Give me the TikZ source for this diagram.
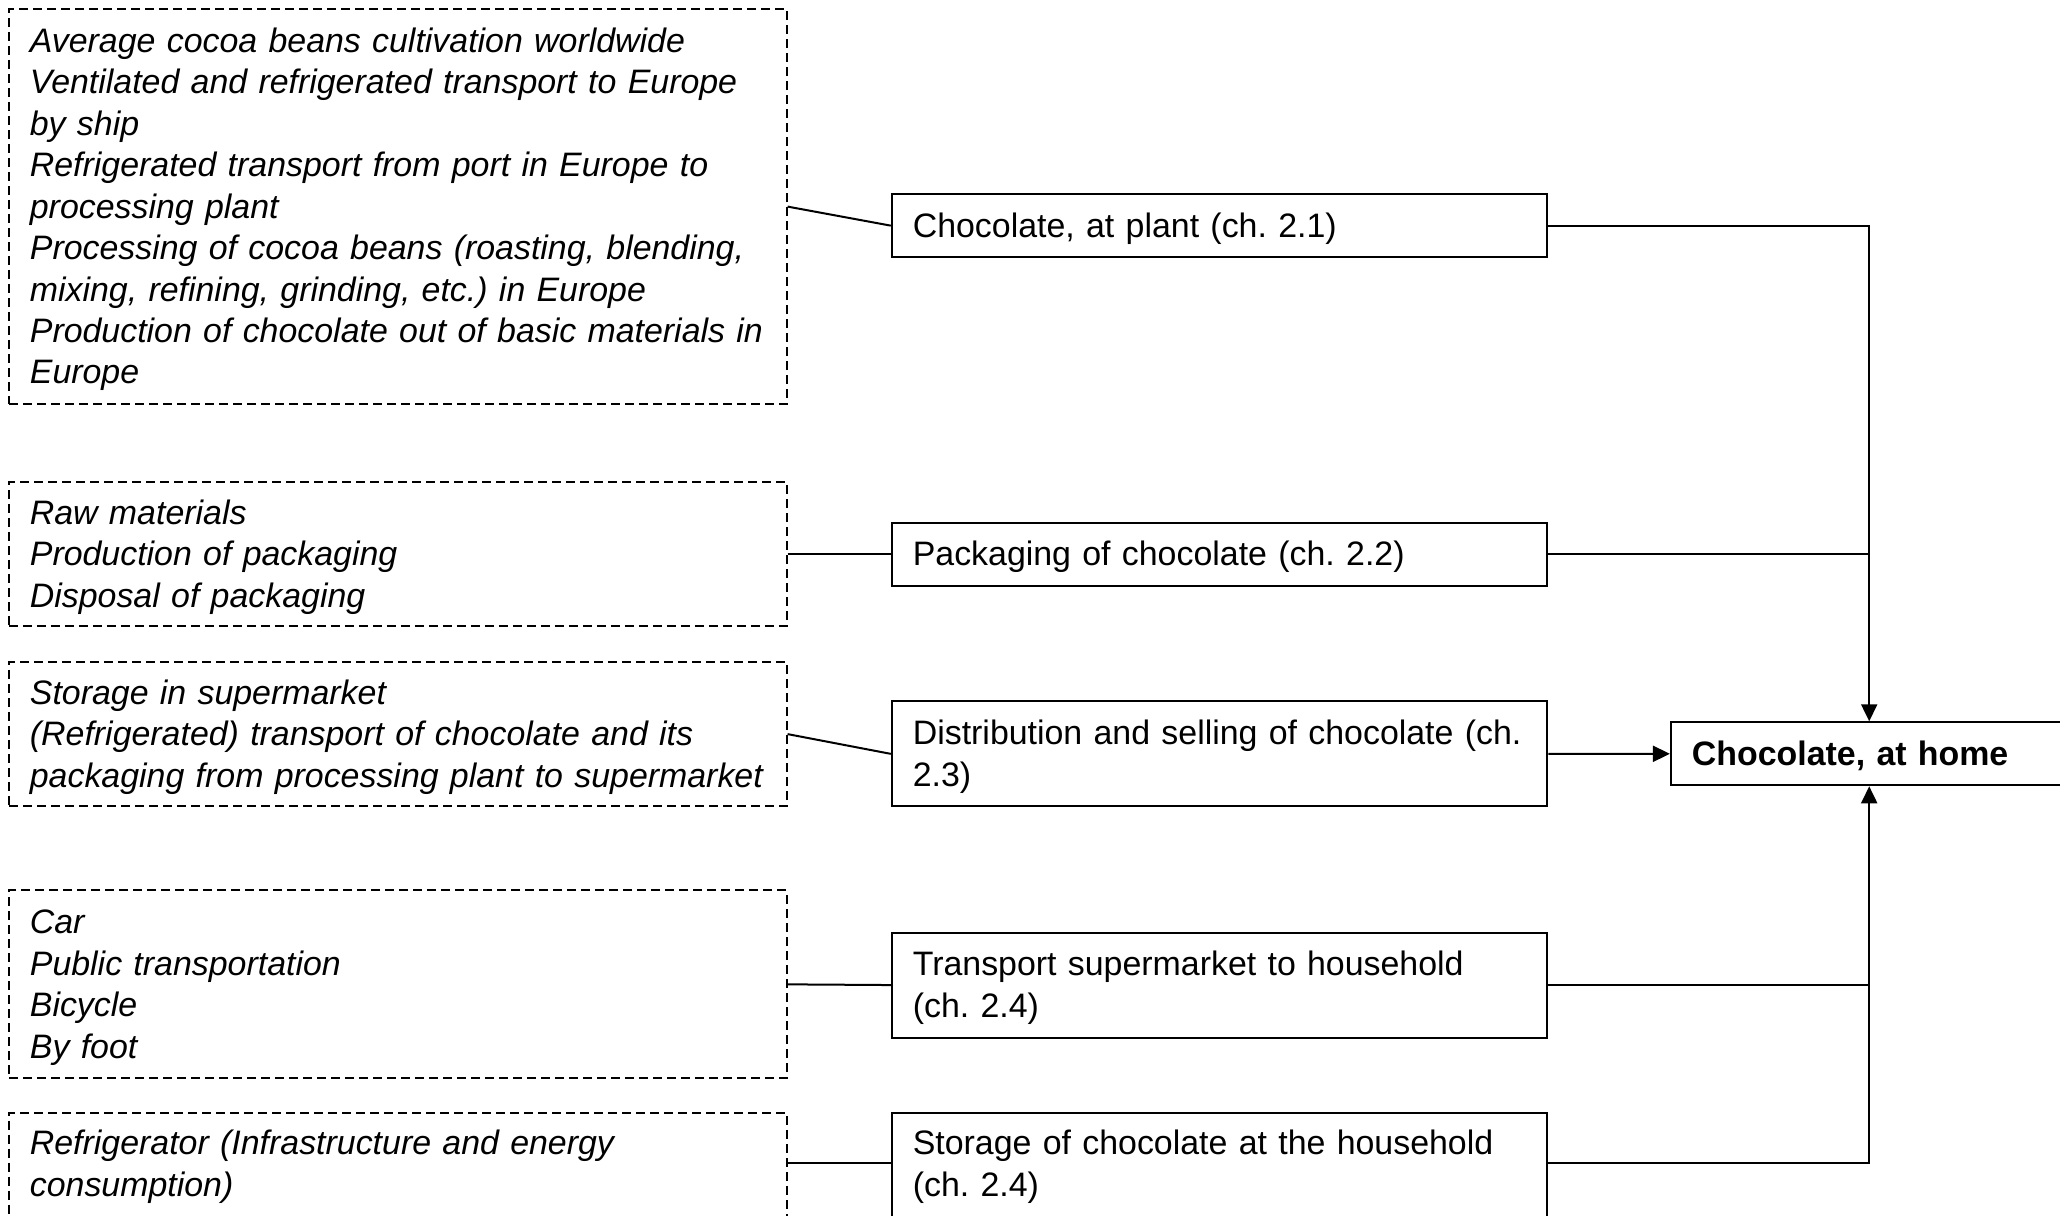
\documentclass[tikz,border=0pt]{standalone}
\usepackage{fontspec}
\setmainfont{Liberation Sans}
\usetikzlibrary{arrows.meta}
\frenchspacing
\newcommand{\rline}[1]{\mbox{\rule[-9.1pt]{0pt}{41.4pt}#1}}
\begin{document}
\begin{tikzpicture}[x=1pt,y=-1pt,
  dbox/.style={draw, dash pattern=on 9pt off 5pt, line width=2pt, anchor=north west,
    inner xsep=21pt, inner ysep=0pt, text width=735.7pt, minimum width=777.7pt,
    align=left, font=\fontsize{33.9}{41.4}\selectfont\itshape},
  sbox/.style={draw, line width=2pt, anchor=north west,
    inner xsep=21pt, inner ysep=0pt, text width=613.6pt, minimum width=655.6pt,
    align=left, font=\fontsize{33.9}{41.4}\selectfont},
  hbox/.style={draw, line width=2pt, anchor=north west,
    inner xsep=21pt, inner ysep=0pt, text width=354.6pt, minimum width=396.6pt,
    align=left, font=\fontsize{33.9}{41.4}\selectfont\bfseries},
  conn/.style={line width=2pt},
  arr/.style={line width=2pt, -{Triangle[length=17pt,width=16pt]}}
]
\fill[white] (0,0) rectangle (2060,1215);
\useasboundingbox (0,0) rectangle (2060,1215);

% dashed input boxes
\node[dbox, minimum height=395.4pt] (b1) at (7.9,7.9)
  {\rline{Average cocoa beans cultivation worldwide}\\
   \rline{Ventilated and refrigerated transport to Europe}\\
   \rline{by ship}\\
   \rline{Refrigerated transport from port in Europe to}\\
   \rline{processing plant}\\
   \rline{Processing of cocoa beans (roasting, blending,}\\
   \rline{mixing, refining, grinding, etc.) in Europe}\\
   \rline{Production of chocolate out of basic materials in}\\
   \rline{Europe}};
\node[dbox, minimum height=144.6pt] (b2) at (7.9,480.8)
  {\rline{Raw materials}\\
   \rline{Production of packaging}\\
   \rline{Disposal of packaging}};
\node[dbox, minimum height=144.6pt] (b3) at (7.9,660.8)
  {\rline{Storage in supermarket}\\
   \rline{(Refrigerated) transport of chocolate and its}\\
   \rline{packaging from processing plant to supermarket}};
\node[dbox, minimum height=187.9pt] (b4) at (7.9,889.4)
  {\rline{Car}\\
   \rline{Public transportation}\\
   \rline{Bicycle}\\
   \rline{By foot}};
\node[dbox, minimum height=144.4pt] (b5) at (7.9,1111.5)
  {\rline{Refrigerator (Infrastructure and energy}\\
   \rline{consumption)}\\
   \rline{}};

% process boxes
\node[sbox, minimum height=63.1pt] (s1) at (890.8,193.1)
  {\rline{Chocolate, at plant (ch. 2.1)}};
\node[sbox, minimum height=63.0pt] (s2) at (890.8,521.6)
  {\rline{Packaging of chocolate (ch. 2.2)}};
\node[sbox, minimum height=105.1pt] (s3) at (890.8,700.3)
  {\rline{Distribution and selling of chocolate (ch.}\\
   \rline{2.3)}};
\node[sbox, minimum height=105.1pt] (s4) at (890.8,931.5)
  {\rline{Transport supermarket to household}\\
   \rline{(ch. 2.4)}};
\node[sbox, minimum height=144.4pt] (s5) at (890.8,1111.5)
  {\rline{Storage of chocolate at the household}\\
   \rline{(ch. 2.4)}\\
   \rline{}};

% final product
\node[hbox, minimum height=63.0pt] (home) at (1669.9,721.3)
  {\rline{Chocolate, at home}};

\coordinate (j5) at (0,1162.7);

% connectors from dashed boxes
\draw[conn] (b1.east) -- (s1.west);
\draw[conn] (b2.east) -- (s2.west);
\draw[conn] (b3.east) -- (s3.west);
\draw[conn] (b4.east) -- (s4.west);
\draw[conn] (b5.east |- j5) -- (s5.west |- j5);

% connectors to final product
\draw[arr] (s1.east) -| (home.north);
\draw[conn] (s2.east) -- (s2.east -| home.north);
\draw[arr] (s3.east) -- (home.west);
\draw[conn] (s4.east) -- (s4.east -| home.south);
\draw[arr] (s5.east |- j5) -| (home.south);
\end{tikzpicture}
\end{document}
